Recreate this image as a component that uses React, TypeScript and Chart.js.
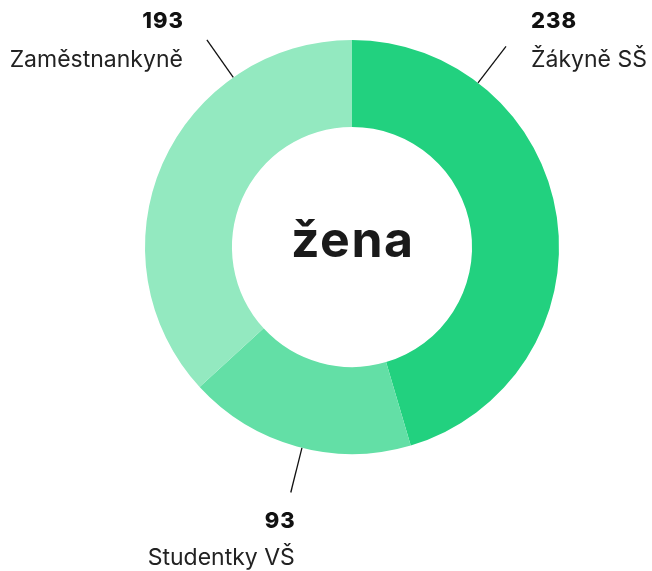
import React, { useEffect, useRef } from "react";
import { Chart, registerables } from "chart.js";

Chart.register(...registerables);

const categories = ["Žákyně SŠ", "Studentky VŠ", "Zaměstnankyně"];
const values = [238, 93, 193];
const colors = ["#22D17F", "#63DFA6", "#93E9C0"];
const centerTitle = "žena";
// leader line angle (degrees clockwise from top) and label placement
const labelAngles = [37.5, 194, 325];
const labelPlacement = ["right", "bottom", "left"];

const FONT = "Inter, 'Noto Sans', sans-serif";

const labelPlugin = {
  id: "calloutLabels",
  afterDraw(chart: any) {
    const ctx = chart.ctx;
    const meta = chart.getDatasetMeta(0);
    const arc = meta.data[0];
    if (!arc) return;
    const cx = arc.x;
    const cy = arc.y;
    const r = arc.outerRadius;
    const area = chart.chartArea;
    ctx.save();
    // center text
    ctx.fillStyle = "#1a1a1a";
    ctx.font = `700 50px ${FONT}`;
    ctx.letterSpacing = "1.5px";
    ctx.textAlign = "left";
    ctx.textBaseline = "alphabetic";
    const w = ctx.measureText(centerTitle).width - 1.5;
    ctx.fillText(centerTitle, cx - w / 2, cy + 10);

    values.forEach((v, i) => {
      const a = (labelAngles[i] * Math.PI) / 180;
      const x1 = cx + r * Math.sin(a);
      const y1 = cy - r * Math.cos(a);
      const x2 = cx + (r + 46) * Math.sin(a);
      const y2 = cy - (r + 46) * Math.cos(a);
      ctx.strokeStyle = "#111";
      ctx.lineWidth = 1.3;
      ctx.beginPath();
      ctx.moveTo(x1, y1);
      ctx.lineTo(x2, y2);
      ctx.stroke();

      const place = labelPlacement[i];
      let tx: number;
      let nb: number;
      let lb: number;
      let align: "left" | "right";
      if (place === "right") {
        align = "left";
        tx = x2 + 25;
        nb = area.top - 12;
        lb = area.top + 27;
      } else if (place === "left") {
        align = "right";
        tx = x2 - 24;
        nb = area.top - 12;
        lb = area.top + 27;
      } else {
        align = "right";
        tx = x2 + 4;
        nb = area.bottom + 74;
        lb = area.bottom + 111;
      }
      const drawText = (s: string, font: string, spacing: number, y: number, color: string) => {
        ctx.font = font;
        ctx.letterSpacing = `${spacing}px`;
        ctx.fillStyle = color;
        ctx.textAlign = "left";
        const tw = ctx.measureText(s).width - spacing;
        const x = align === "left" ? tx : tx - tw;
        ctx.fillText(s, x, y);
      };
      drawText(String(v), `800 22px ${FONT}`, 1, nb, "#111");
      drawText(categories[i], `400 23px ${FONT}`, 0, lb, "#222");
    });
    ctx.restore();
  },
};

export default function App() {
  const ref = useRef<HTMLCanvasElement | null>(null);
  useEffect(() => {
    if (!ref.current) return;
    const chart = new Chart(ref.current, {
      type: "doughnut",
      data: {
        labels: categories,
        datasets: [
          {
            data: values,
            backgroundColor: colors,
            borderWidth: 0,
          },
        ],
      },
      options: {
        responsive: false,
        animation: false,
        cutout: "58%",
        layout: { padding: { left: 145, right: 93, top: 40, bottom: 117 } },
        plugins: {
          legend: { display: false },
          tooltip: { enabled: false },
        },
      },
      plugins: [labelPlugin],
    });
    return () => chart.destroy();
  }, []);
  return (
    <div style={{ position: "absolute", left: 0, top: 0, width: 652, height: 571, background: "#fff" }}>
      <canvas ref={ref} width={652} height={571} style={{ display: "block" }} />
    </div>
  );
}
